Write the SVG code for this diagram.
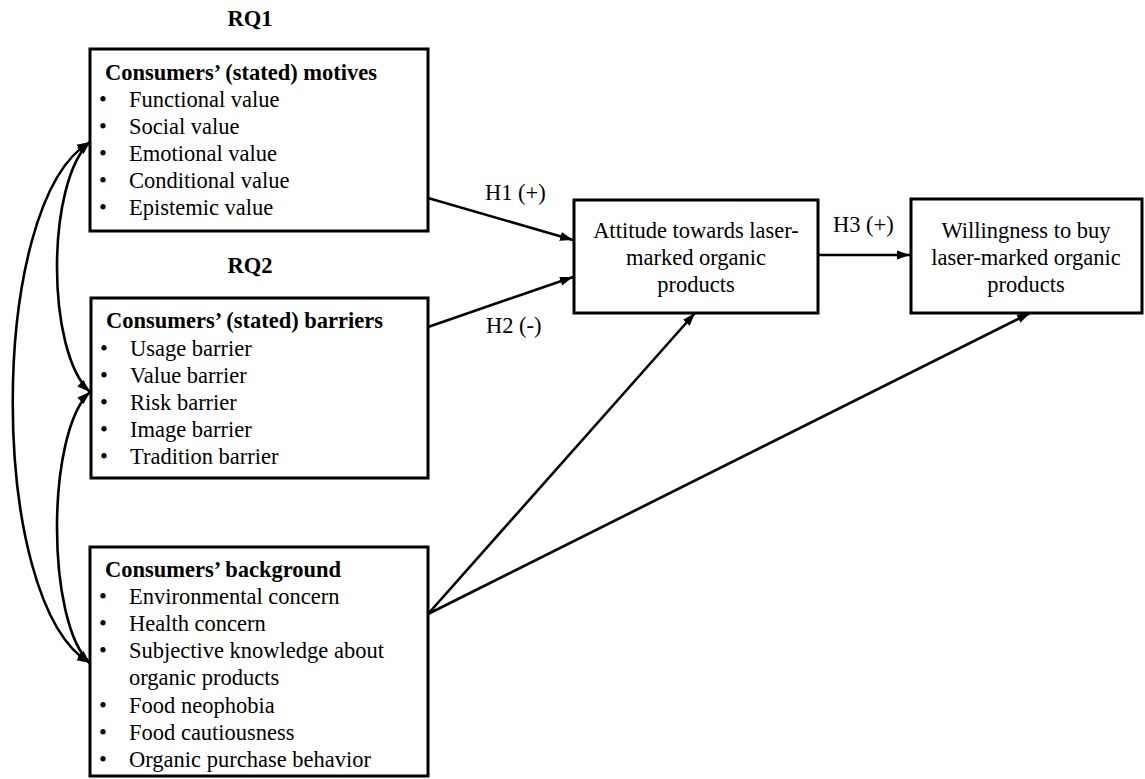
<svg xmlns="http://www.w3.org/2000/svg" width="1145" height="779" viewBox="0 0 1145 779">
<style>
text{font-family:'Liberation Serif','Times New Roman',Times,'DejaVu Serif',serif;font-size:22.5px;fill:#000}
.b{font-weight:bold}
.c{text-anchor:middle}
.box{fill:#fff;stroke:#000;stroke-width:3}
.ln{fill:none;stroke:#000;stroke-width:2.6}
</style>
<defs>
<marker id="ah" markerUnits="userSpaceOnUse" markerWidth="14" markerHeight="10" refX="13" refY="5" orient="auto-start-reverse">
<path d="M0,0.5 L13,5 L0,9.5 Z" fill="#000"/>
</marker>
</defs>
<rect width="1145" height="779" fill="#fff"/>
<g id="connectors">
<path class="ln" d="M90,142 C-13,202 -13,603 90,663" marker-start="url(#ah)" marker-end="url(#ah)"/>
<path class="ln" d="M90,142 C46,182 46,352 90,392" marker-start="url(#ah)" marker-end="url(#ah)"/>
<path class="ln" d="M90,392 C46,432 46,623 90,663" marker-start="url(#ah)" marker-end="url(#ah)"/>
<line class="ln" x1="428" y1="198" x2="573" y2="240" marker-end="url(#ah)"/>
<line class="ln" x1="428" y1="327" x2="573" y2="277" marker-end="url(#ah)"/>
<line class="ln" x1="818" y1="255" x2="910" y2="255" marker-end="url(#ah)"/>
<line class="ln" x1="428" y1="614" x2="695" y2="313" marker-end="url(#ah)"/>
<line class="ln" x1="428" y1="614" x2="1030" y2="313" marker-end="url(#ah)"/>
<text x="485" y="200">H1 (+)</text>
<text x="486" y="333">H2 (-)</text>
<text x="833" y="232">H3 (+)</text>
</g>
<g id="motives">
<text class="b c" x="250" y="26">RQ1</text>
<rect class="box" x="90" y="49" width="338" height="182"/>
<text class="b" x="105" y="80">Consumers’ (stated) motives</text>
<text x="99" y="107">•</text><text x="129" y="107">Functional value</text>
<text x="99" y="134">•</text><text x="129" y="134">Social value</text>
<text x="99" y="161">•</text><text x="129" y="161">Emotional value</text>
<text x="99" y="188">•</text><text x="129" y="188">Conditional value</text>
<text x="99" y="215">•</text><text x="129" y="215">Epistemic value</text>
</g>
<g id="barriers">
<text class="b c" x="250" y="273">RQ2</text>
<rect class="box" x="91" y="298" width="337" height="180"/>
<text class="b" x="106" y="328">Consumers’ (stated) barriers</text>
<text x="100" y="356">•</text><text x="130" y="356">Usage barrier</text>
<text x="100" y="383">•</text><text x="130" y="383">Value barrier</text>
<text x="100" y="410">•</text><text x="130" y="410">Risk barrier</text>
<text x="100" y="437">•</text><text x="130" y="437">Image barrier</text>
<text x="100" y="464">•</text><text x="130" y="464">Tradition barrier</text>
</g>
<g id="background">
<rect class="box" x="90" y="547" width="338" height="229"/>
<text class="b" x="105" y="577">Consumers’ background</text>
<text x="99" y="604">•</text><text x="129" y="604">Environmental concern</text>
<text x="99" y="631">•</text><text x="129" y="631">Health concern</text>
<text x="99" y="658">•</text><text x="129" y="658">Subjective knowledge about</text>
<text x="129" y="685">organic products</text>
<text x="99" y="713">•</text><text x="129" y="713">Food neophobia</text>
<text x="99" y="740">•</text><text x="129" y="740">Food cautiousness</text>
<text x="99" y="767">•</text><text x="129" y="767">Organic purchase behavior</text>
</g>
<g id="attitude">
<rect class="box" x="574" y="200" width="244" height="113"/>
<text class="c" x="696" y="238">Attitude towards laser-</text>
<text class="c" x="696" y="265">marked organic</text>
<text class="c" x="696" y="292">products</text>
</g>
<g id="willingness">
<rect class="box" x="911" y="199" width="231" height="114"/>
<text class="c" x="1026" y="238">Willingness to buy</text>
<text class="c" x="1026" y="265">laser-marked organic</text>
<text class="c" x="1026" y="292">products</text>
</g>
</svg>
